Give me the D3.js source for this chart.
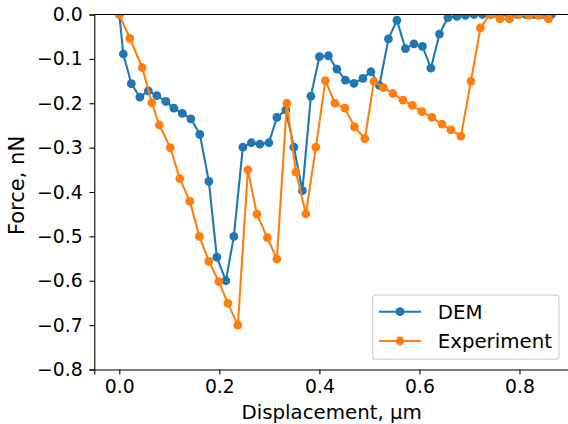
<!DOCTYPE html>
<html>
<head>
<meta charset="utf-8">
<script src="https://cdn.jsdelivr.net/npm/d3@7"></script>
<style>
body { margin: 0; background: #fff; }
svg { display: block; }
text { font-family: "DejaVu Sans", sans-serif; }
</style>
</head>
<body>
<svg width="568" height="424"></svg>
<script>
var demX = [0, 0.008, 0.024, 0.041, 0.058, 0.075, 0.093, 0.109, 0.126, 0.143, 0.161,
  0.179, 0.195, 0.213, 0.229, 0.247, 0.264, 0.281, 0.299, 0.315, 0.333,
  0.349, 0.366, 0.383, 0.400, 0.418, 0.435, 0.452, 0.469, 0.487, 0.503,
  0.520, 0.538, 0.555, 0.572, 0.589, 0.606, 0.623, 0.640, 0.657, 0.675,
  0.692, 0.709, 0.726, 0.743, 0.761, 0.778, 0.795, 0.812, 0.829, 0.847, 0.864];
var demF = [0, -0.089, -0.156, -0.186, -0.172, -0.183, -0.196, -0.211, -0.223, -0.235, -0.270,
  -0.376, -0.547, -0.600, -0.500, -0.299, -0.289, -0.292, -0.289, -0.232, -0.215,
  -0.299, -0.397, -0.184, -0.095, -0.093, -0.123, -0.148, -0.155, -0.144, -0.129,
  -0.160, -0.055, -0.013, -0.077, -0.066, -0.072, -0.121, -0.044, -0.007, -0.004,
  -0.002, 0, 0, 0, 0, 0, 0, 0, 0, 0, 0];

var expX = [0, 0.021, 0.046, 0.065, 0.080, 0.102, 0.121, 0.141, 0.160, 0.179, 0.199,
  0.217, 0.237, 0.257, 0.275, 0.296, 0.315, 0.335, 0.353, 0.373, 0.393,
  0.412, 0.431, 0.451, 0.470, 0.491, 0.509, 0.528, 0.547, 0.567, 0.586,
  0.605, 0.625, 0.645, 0.663, 0.683, 0.703, 0.722, 0.741, 0.761, 0.780,
  0.799, 0.819, 0.838, 0.858];
var expF = [0, -0.054, -0.120, -0.199, -0.249, -0.300, -0.370, -0.421, -0.500, -0.556, -0.602,
  -0.651, -0.700, -0.350, -0.450, -0.503, -0.551, -0.200, -0.355, -0.449, -0.299,
  -0.149, -0.200, -0.211, -0.253, -0.280, -0.151, -0.165, -0.178, -0.193, -0.205,
  -0.219, -0.232, -0.247, -0.260, -0.274, -0.150, -0.030, 0, -0.010, -0.010,
  0, -0.002, -0.002, -0.010];

var xTicks = [0.0, 0.2, 0.4, 0.6, 0.8];
var yTicks = [0.0, -0.1, -0.2, -0.3, -0.4, -0.5, -0.6, -0.7, -0.8];

var seriesNames = ["DEM", "Experiment"];
var seriesColors = ["#1f77b4", "#ff7f0e"];

var svg = d3.select("svg"),
  plotLeft = 94.3, plotRight = 569, plotTop = 14.5, plotBottom = 369.5;

var x = d3.scaleLinear().domain([-0.05, 0.899]).range([plotLeft, plotRight]),
  y = d3.scaleLinear().domain([-0.8, 0]).range([plotBottom, plotTop]);

var series = [
  {name: seriesNames[0], color: seriesColors[0], values: demX.map(function(d, i) { return {x: d, y: demF[i]}; })},
  {name: seriesNames[1], color: seriesColors[1], values: expX.map(function(d, i) { return {x: d, y: expF[i]}; })}
];

svg.append("defs").append("clipPath")
  .attr("id", "clip")
.append("rect")
  .attr("x", plotLeft).attr("y", plotTop)
  .attr("width", plotRight - plotLeft).attr("height", plotBottom - plotTop);

var line = d3.line()
  .x(function(d) { return x(d.x); })
  .y(function(d) { return y(d.y); });

var plot = svg.append("g").attr("clip-path", "url(#clip)");

var s = plot.selectAll(".series")
  .data(series)
  .enter().append("g")
    .attr("class", "series");

s.append("path")
  .attr("d", function(d) { return line(d.values); })
  .attr("fill", "none")
  .attr("stroke", function(d) { return d.color; })
  .attr("stroke-width", 2.1)
  .attr("stroke-linejoin", "round");

s.each(function(d) {
  d3.select(this).selectAll("circle")
    .data(d.values)
    .enter().append("circle")
      .attr("cx", function(p) { return x(p.x); })
      .attr("cy", function(p) { return y(p.y); })
      .attr("r", 4.4)
      .attr("fill", d.color);
});

// axes
var xAxis = svg.append("g")
  .attr("transform", "translate(0," + plotBottom + ")")
  .call(d3.axisBottom(x).tickValues(xTicks).tickFormat(d3.format(".1f")).tickSizeOuter(0).tickSize(4.9).tickPadding(5.6));

var yAxis = svg.append("g")
  .attr("transform", "translate(" + plotLeft + ",0)")
  .call(d3.axisLeft(y).tickValues(yTicks).tickFormat(function(d) { return d3.format(".1f")(d).replace("-", "\u2212"); }).tickSizeOuter(0).tickSize(4.9).tickPadding(6.7));

[xAxis, yAxis].forEach(function(a) {
  a.attr("font-size", 18.8).attr("font-family", "'DejaVu Sans', sans-serif");
  a.select(".domain").attr("stroke", "#000").attr("stroke-width", 1.1);
  a.selectAll(".tick line").attr("stroke", "#000").attr("stroke-width", 1.1);
  a.selectAll(".tick text").attr("fill", "#000");
});

// top spine
svg.append("line")
  .attr("x1", plotLeft).attr("x2", plotRight)
  .attr("y1", plotTop).attr("y2", plotTop)
  .attr("stroke", "#000").attr("stroke-width", 1.1);

svg.append("text")
  .attr("x", (plotLeft + plotRight) / 2)
  .attr("y", 419)
  .attr("text-anchor", "middle")
  .attr("font-size", 19.8)
  .text("Displacement, \u00b5m");

svg.append("text")
  .attr("transform", "translate(23.5,185.5) rotate(-90)")
  .attr("text-anchor", "middle")
  .attr("font-size", 21)
  .text("Force, nN");

// legend
var legend = svg.append("g");

legend.append("rect")
  .attr("x", 372.7).attr("y", 295)
  .attr("width", 186.3).attr("height", 64.3)
  .attr("rx", 3)
  .attr("fill", "#fff").attr("fill-opacity", 0.8)
  .attr("stroke", "#ccc").attr("stroke-width", 1.1);

var item = legend.selectAll(".item")
  .data(series)
  .enter().append("g")
    .attr("class", "item")
    .attr("transform", function(d, i) { return "translate(0," + (311.7 + i * 29.3) + ")"; });

item.append("line")
  .attr("x1", 379).attr("x2", 421)
  .attr("stroke", function(d) { return d.color; })
  .attr("stroke-width", 2.1);

item.append("circle")
  .attr("cx", 400).attr("r", 4.4)
  .attr("fill", function(d) { return d.color; });

item.append("text")
  .attr("x", 437.7)
  .attr("dy", "0.35em")
  .attr("font-size", 19.8)
  .text(function(d) { return d.name; });
</script>
</body>
</html>
